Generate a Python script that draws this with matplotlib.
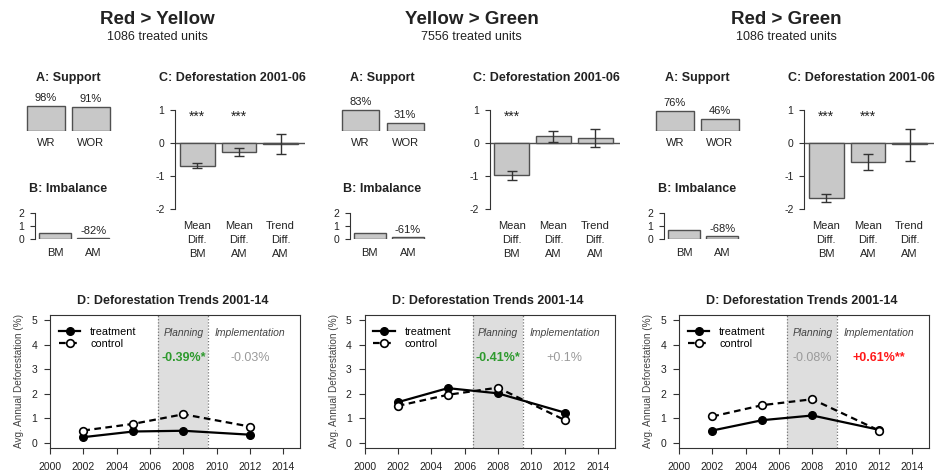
import matplotlib
matplotlib.use("Agg")
import matplotlib.pyplot as plt

# ---- data ----
groups = ["Red > Yellow", "Yellow > Green", "Red > Green"]
treated_units = [1086, 7556, 1086]

support_labels = ["WR", "WOR"]
support_wr = [0.98, 0.83, 0.76]
support_wor = [0.91, 0.31, 0.46]

imb_labels = ["BM", "AM"]
imb_bm = [0.48, 0.49, 0.69]
imb_am = [0.09, 0.19, 0.22]
imb_change = [-82, -61, -68]

diff_labels = ["Mean\nDiff.\nBM", "Mean\nDiff.\nAM", "Trend\nDiff.\nAM"]
diff_vals = [[-0.70, -0.28, -0.03], [-0.97, 0.19, 0.14], [-1.67, -0.59, -0.05]]
diff_lo = [[-0.78, -0.39, -0.35], [-1.13, 0.02, -0.14], [-1.80, -0.83, -0.56]]
diff_hi = [[-0.61, -0.17, 0.26], [-0.86, 0.36, 0.42], [-1.55, -0.35, 0.43]]
diff_stars = [["***", "***", ""], ["***", "", ""], ["***", "***", ""]]

years = [2002, 2005, 2008, 2012]
treatment = [[0.24, 0.47, 0.50, 0.34], [1.66, 2.23, 2.02, 1.24], [0.51, 0.93, 1.12, 0.54]]
control = [[0.51, 0.78, 1.17, 0.67], [1.51, 1.96, 2.25, 0.94], [1.08, 1.54, 1.78, 0.51]]
planning_effect = ["-0.39%*", "-0.41%*", "-0.08%"]
impl_effect = ["-0.03%", "+0.1%", "+0.61%**"]

# ---- style ----
plt.rcParams["font.family"] = ["Liberation Sans", "DejaVu Sans"]
plt.rcParams["axes.unicode_minus"] = False
TXT = "#222222"
AXC = "#333333"
BAR = "#c8c8c8"
EDGE = "#505050"
SHADE = "#dedede"
GREEN = "#2e9a2e"
RED = "#ff1a1a"
GREY = "#9a9a9a"

W, H = 936, 473
OFFSETS = [0, 314.5, 629]

fig = plt.figure(figsize=(W / 100, H / 100), dpi=100)


def px_axes(left, top, right, bottom):
    return fig.add_axes([left / W, 1 - bottom / H, (right - left) / W, (bottom - top) / H])


def px_text(x, y, s, **kw):
    fig.text(x / W, 1 - y / H, s, ha="center", va="center", color=TXT, **kw)


def r_axis(ax, spines=("left",)):
    for name, sp in ax.spines.items():
        sp.set_visible(name in spines)
        sp.set_color(AXC)
        sp.set_linewidth(0.8)
    ax.tick_params(colors=AXC, labelcolor=TXT, width=0.8, length=4, labelsize=7.5)


def effect_style(s):
    if "*" in s:
        return dict(color=GREEN if s.startswith("-") else RED, fontweight="bold")
    return dict(color=GREY)


for g in range(3):
    dx = OFFSETS[g]
    px_text(157 + dx, 20, groups[g], fontsize=13.5, fontweight="bold")
    px_text(157 + dx, 37.5, f"{treated_units[g]} treated units", fontsize=9)

    # A: Support
    px_text(68 + dx, 78, "A: Support", fontsize=9, fontweight="bold")
    ax = px_axes(19.5 + dx, 100, 117 + dx, 131)
    vals = [support_wr[g], support_wor[g]]
    ax.bar([0.7, 1.9], vals, width=1, color=BAR, edgecolor=EDGE, lw=1)
    ax.set_xlim(0, 2.6)
    ax.set_ylim(0, 1.2)
    ax.axis("off")
    for x, v, lab in zip([0.7, 1.9], vals, support_labels):
        ax.annotate(f"{v:.0%}", (x, v), xytext=(0, 8), textcoords="offset pixels",
                    ha="center", va="center", fontsize=8, color=TXT, annotation_clip=False)
        ax.annotate(lab, (x, 0), xytext=(0, -12), textcoords="offset pixels",
                    ha="center", va="center", fontsize=8, color=TXT, annotation_clip=False)

    # B: Imbalance
    px_text(68 + dx, 189, "B: Imbalance", fontsize=9, fontweight="bold")
    ax = px_axes(35 + dx, 213, 115.8 + dx, 239)
    vals = [imb_bm[g], imb_am[g]]
    ax.bar([0.7, 1.9], vals, width=1, color=BAR, edgecolor=EDGE, lw=1)
    ax.set_xlim(0.075, 2.6)
    ax.set_ylim(0, 2)
    r_axis(ax)
    ax.spines["left"].set_bounds(0, 2)
    ax.set_yticks([0, 1, 2])
    ax.set_xticks([])
    ax.tick_params(axis="y", pad=4, length=3.6)
    ax.annotate(f"{imb_change[g]}%", (1.9, imb_am[g]), xytext=(0, 7), textcoords="offset pixels",
                ha="center", va="center", fontsize=8, color=TXT)
    for x, lab in zip([0.7, 1.9], imb_labels):
        ax.annotate(lab, (x, 0), xytext=(0, -14), textcoords="offset pixels",
                    ha="center", va="center", fontsize=8, color=TXT, annotation_clip=False)

    # C: Deforestation 2001-06
    px_text(232 + dx, 78, "C: Deforestation 2001-06", fontsize=9, fontweight="bold")
    ax = px_axes(175 + dx, 99.8, 305 + dx, 218.6)
    xs = [0.7, 1.9, 3.1]
    vals = diff_vals[g]
    ax.axhline(0, color=EDGE, lw=1, zorder=1)
    ax.bar(xs, vals, width=1, color=BAR, edgecolor=EDGE, lw=1, zorder=2)
    err = [[v - lo for v, lo in zip(vals, diff_lo[g])], [hi - v for v, hi in zip(vals, diff_hi[g])]]
    ax.errorbar(xs, vals, yerr=err, fmt="none", ecolor=AXC, elinewidth=1, capsize=3.5, capthick=1, zorder=3)
    for x, s in zip(xs, diff_stars[g]):
        ax.text(x, 0.78, s, ha="center", va="center", fontsize=10, color=TXT)
    ax.set_xlim(0.06, 3.8)
    ax.set_ylim(-2.3, 1.3)
    r_axis(ax)
    ax.spines["left"].set_bounds(-2, 1)
    ax.set_yticks([-2, -1, 0, 1])
    ax.set_xticks(xs, diff_labels)
    for lab in ax.get_xticklabels():
        lab.set_linespacing(1.45)
    ax.tick_params(axis="x", length=0, pad=2, labelsize=8)
    ax.tick_params(axis="y", pad=4, length=3.6)

    # D: Deforestation Trends 2001-14
    px_text(173 + dx, 300.7, "D: Deforestation Trends 2001-14", fontsize=9, fontweight="bold")
    ax = px_axes(50 + dx, 315, 300 + dx, 448)
    ax.axvspan(2006.5, 2009.5, color=SHADE, lw=0, zorder=0)
    for xv in (2006.5, 2009.5):
        ax.axvline(xv, color="#777777", lw=0.9, ls=(0, (1, 1.5)), zorder=1)
    ax.plot(years, treatment[g], color="black", lw=1.6, marker="o", ms=5.5,
            mfc="black", mec="black", label="treatment", zorder=3)
    ax.plot(years, control[g], color="black", lw=1.6, ls=(0, (3, 2)), marker="o", ms=5.5,
            mfc="white", mec="black", mew=1.2, label="control", zorder=3)
    ax.text(2008, 4.48, "Planning", ha="center", va="center", fontsize=7.5, style="italic", color="#444444")
    ax.text(2012, 4.48, "Implementation", ha="center", va="center", fontsize=7.5, style="italic", color="#444444")
    ax.text(2008, 3.45, planning_effect[g], ha="center", va="center", fontsize=9, **effect_style(planning_effect[g]))
    ax.text(2012, 3.45, impl_effect[g], ha="center", va="center", fontsize=9, **effect_style(impl_effect[g]))
    ax.set_xlim(2000, 2015)
    ax.set_ylim(-0.2, 5.2)
    r_axis(ax, spines=("left", "right", "top", "bottom"))
    ax.set_xticks(range(2000, 2015, 2))
    ax.set_yticks(range(0, 6))
    ax.tick_params(axis="x", pad=6, length=4.3)
    ax.tick_params(axis="y", pad=5, length=4.3)
    ax.set_ylabel("Avg. Annual Deforestation (%)", fontsize=7.2, color="#444444", labelpad=5)
    ax.legend(loc="upper left", bbox_to_anchor=(0.035, 0.91), frameon=False, fontsize=7.8,
              handlelength=2.0, handletextpad=0.9, labelspacing=0.2, borderpad=0, borderaxespad=0)

fig.savefig("out.png", dpi=100)
